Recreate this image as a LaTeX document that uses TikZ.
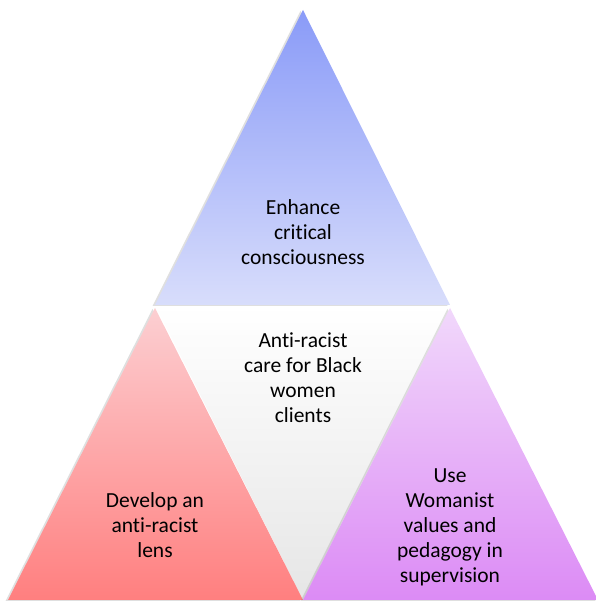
\documentclass[tikz,border=0pt]{standalone}
\usepackage{fontspec}
\setmainfont{Carlito}[Ligatures=NoCommon]
\usepackage{tikz}
\usetikzlibrary{calc,shadows}

\definecolor{bluetop}{HTML}{8A9BF8}
\definecolor{bluebot}{HTML}{D8DDFB}
\definecolor{redtop}{HTML}{FCCFD2}
\definecolor{redbot}{HTML}{FF7F7F}
\definecolor{violettop}{HTML}{F1D8FB}
\definecolor{violetbot}{HTML}{DC8BF5}
\definecolor{greymid}{HTML}{F7F7F7}
\definecolor{greybot}{HTML}{E6E6E6}

\begin{document}
\begin{tikzpicture}[x=1pt,y=1pt,
    part/.style={drop shadow={shadow xshift=-2.5pt,shadow yshift=-1pt,opacity=0.25}},
    txt/.style={align=center,text=black,font=\fontsize{21.5}{25}\selectfont}]
  \useasboundingbox (0,0) rectangle (595,602);

  \coordinate (top) at (303,592);
  \coordinate (tl) at (155,297);
  \coordinate (tr) at (450,297);
  \coordinate (ltop) at (155,294);
  \coordinate (rtop) at (450,294);
  \coordinate (bl) at (8,2);
  \coordinate (bm) at (303,2);
  \coordinate (br) at (598,2);

  % middle, pointing down
  \shade [top color=white,middle color=greymid,bottom color=greybot] (tl) -- (tr) -- (bm) -- cycle;

  \shade [part,top color=bluetop,bottom color=bluebot] (top) -- (tr) -- (tl) -- cycle;
  \shade [part,top color=redtop,bottom color=redbot] (ltop) -- (bm) -- (bl) -- cycle;
  \shade [part,top color=violettop,bottom color=violetbot] (rtop) -- (br) -- (bm) -- cycle;

  \node [txt] (enhance) at (303,370) {Enhance\\critical\\consciousness};
  \node [txt] (care) at (303,224) {Anti-racist\\care for Black\\women\\clients};
  \node [txt] (lens) at (155,77) {Develop an\\anti-racist\\lens};
  \node [txt] (womanist) at (450,75) {Use\\Womanist\\values and\\pedagogy in\\supervision};
\end{tikzpicture}
\end{document}
